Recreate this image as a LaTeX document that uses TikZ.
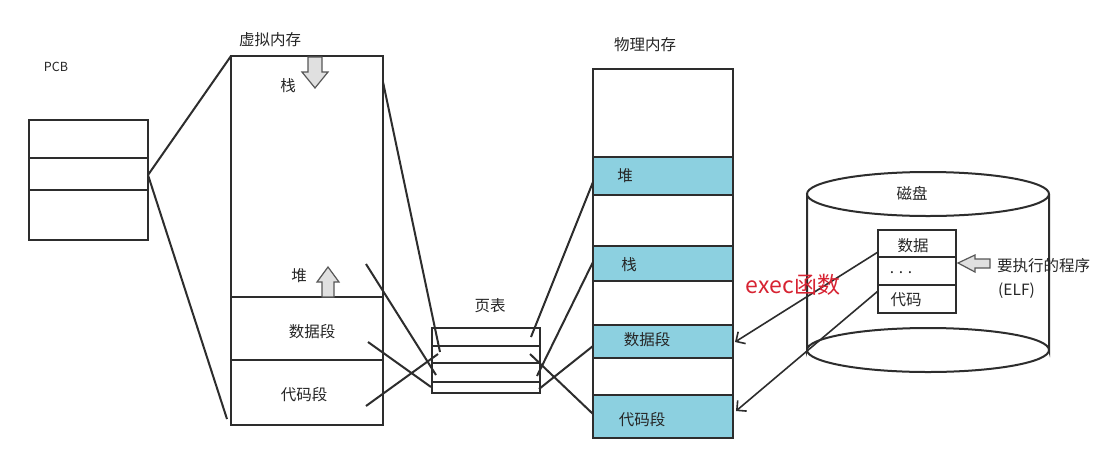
\documentclass[tikz,border=0pt]{standalone}
\usepackage{fontspec}
\setmainfont{Noto Sans CJK SC}
\usetikzlibrary{arrows.meta,calc}
\definecolor{band}{RGB}{140,208,224}
\definecolor{execred}{RGB}{215,35,50}
\definecolor{ink}{RGB}{45,45,45}
\tikzset{
  ln/.style={draw=ink, line width=2pt},
  box/.style={ln, rectangle, inner sep=0pt, outer sep=0pt, anchor=north west},
  lbl/.style={font=\fontsize{15.5}{18}\selectfont, inner sep=0pt, text=black!85},
  small/.style={font=\fontsize{12.5}{14}\selectfont, inner sep=0pt, text=black!85},
  hollow/.style={draw=ink!80, line width=1.2pt, fill=black!12},
  execarrow/.style={ln, line width=1.6pt, -{Straight Barb[length=7pt,width=14pt]}},
}
\begin{document}
\begin{tikzpicture}[x=1pt,y=-1pt]
\useasboundingbox (0,0) rectangle (1118,469);
\fill[white] (0,0) rectangle (1118,469);

% ---------- PCB ----------
\node[small] (pcbl) at (56,67) {PCB};
\node[box, minimum width=119pt, minimum height=120pt] (pcb) at (29,120) {};
\draw[ln] (29,158) -- (148,158);
\draw[ln] (29,190) -- (148,190);
\coordinate (pcbo) at ($(pcb.north east)+(0,55)$);

% ---------- virtual memory ----------
\node[lbl] (vml) at (270,40) {虚拟内存};
\node[box, minimum width=152pt, minimum height=369pt] (vm) at (231,56) {};
\draw[ln] (231,297) -- (383,297);
\draw[ln] (231,360) -- (383,360);
\node[lbl] (vstack) at (288,86) {栈};
\node[lbl] (vheap) at (299,276) {堆};
\node[lbl] (vdata) at (312,332) {数据段};
\node[lbl] (vcode) at (304,395) {代码段};
% hollow arrows
\draw[hollow] (308,57) -- (322,57) -- (322,72) -- (328,72) -- (315,88) -- (302,72) -- (308,72) -- cycle;
\draw[hollow] (322,297) -- (334,297) -- (334,282) -- (339,282) -- (328,267) -- (317,282) -- (322,282) -- cycle;

\draw[ln] (pcbo) -- (vm.north west);
\draw[ln] (pcbo) -- ($(vm.south west)+(-4,-6)$);

% ---------- page table ----------
\node[lbl] (ptl) at (490,306) {页表};
\node[box, minimum width=108pt, minimum height=65pt] (pt) at (432,328) {};
\draw[ln] (432,346) -- (540,346);
\draw[ln] (432,363) -- (540,363);
\draw[ln] (432,382) -- (540,382);

% ---------- physical memory ----------
\node[lbl] (pml) at (645,45) {物理内存};
\fill[band] (593,157) rectangle (733,195);
\fill[band] (593,246) rectangle (733,281);
\fill[band] (593,325) rectangle (733,358);
\fill[band] (593,395) rectangle (733,438);
\node[box, minimum width=140pt, minimum height=369pt] (pm) at (593,69) {};
\foreach \yy in {157,195,246,281,325,358,395} \draw[ln] (593,\yy) -- (733,\yy);
\node[lbl] (pheap) at (625,176) {堆};
\node[lbl] (pstack) at (629,265) {栈};
\node[lbl] (pdata) at (647,340) {数据段};
\node[lbl] (pcode) at (642,420) {代码段};

% ---------- VM -> page table ----------
\coordinate (a1) at (383,82);   \coordinate (b1) at (440,352);
\coordinate (a2) at (366,264);  \coordinate (b2) at (436,375);
\coordinate (a3) at (368,342);  \coordinate (b3) at (431,387);
\coordinate (a4) at (366,406);  \coordinate (b4) at (438,354);
\draw[ln] (a1) -- (b1);
\draw[ln] (a2) -- (b2);
\draw[ln] (a3) -- (b3);
\draw[ln] (a4) -- (b4);

% ---------- page table -> physical ----------
\coordinate (c1) at (531,337);  \coordinate (d1) at (593,182);
\coordinate (c2) at (537,376);  \coordinate (d2) at (593,262);
\coordinate (c3) at (539,389);  \coordinate (d3) at (593,346);
\coordinate (c4) at (530,354);  \coordinate (d4) at (593,414);
\draw[ln] (c1) -- (d1);
\draw[ln] (c2) -- (d2);
\draw[ln] (c3) -- (d3);
\draw[ln] (c4) -- (d4);

% ---------- disk ----------
\draw[ln, fill=white] (807,194) -- (807,350) arc[start angle=180, end angle=360, x radius=121, y radius=22] -- (1049,194);
\draw[ln] (807,350) arc[start angle=180, end angle=0, x radius=121, y radius=22];
\draw[ln, fill=white] (928,194) ellipse[x radius=121, y radius=22];
\node[lbl] (diskl) at (912,193) {磁盘};
\node[box, fill=white, minimum width=78pt, minimum height=83pt] (elf) at (878,230) {};
\draw[ln] (878,257) -- (956,257);
\draw[ln] (878,285) -- (956,285);
\node[lbl] (edata) at (913,246) {数据};
\node[lbl] (edots) at (901,273) {. . .};
\node[lbl] (ecode) at (906,300) {代码};
\draw[hollow] (958,263) -- (975,255) -- (975,259) -- (990,259) -- (990,268) -- (975,268) -- (975,272) -- cycle;
\node[lbl, anchor=west] (prog) at (997,266) {要执行的程序};
\node[lbl, anchor=west] (elfl) at (998,291) {(ELF)};

% ---------- exec arrows ----------
\coordinate (e1) at (878,252);
\coordinate (e2) at (878,291);
\draw[execarrow] (e1) -- (735,342);
\draw[execarrow] (e2) -- (736,411);
\node[font=\fontsize{23}{26}\selectfont, text=execred, inner sep=0pt] (exec) at (793,285) {exec函数};
\end{tikzpicture}
\end{document}
